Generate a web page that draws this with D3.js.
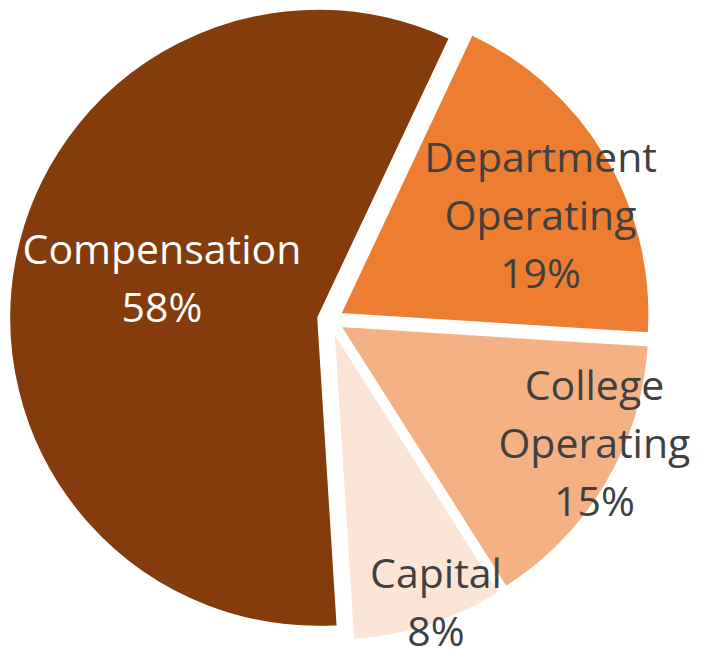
<!DOCTYPE html>
<html>
<head>
<meta charset="utf-8">
<script src="https://cdn.jsdelivr.net/npm/d3@7"></script>
<style>
    html, body { margin: 0; padding: 0; background: #fff; }
    svg { display: block; }
</style>
</head>
<body>
<svg id="chart" width="702" height="650"></svg>
<script>
// Budget split
const categories = ['Compensation', 'Department Operating', 'College Operating', 'Capital'];
const values = [58, 19, 15, 8];
const labelLines = [['Compensation'], ['Department', 'Operating'], ['College', 'Operating'], ['Capital']];
const colors = ['#843C0C', '#ED7D31', '#F4B183', '#FBE5D6'];
const textColors = ['#ffffff', '#404040', '#404040', '#404040'];

// layout
const width = 702, height = 650;
const cx = 330, cy = 320, radius = 309;
const explode = 12;
const firstAngle = 176.4; // degrees, clockwise from top
const fontSize = 41, lineHeight = 58, capHeight = 29;

// label placement (Excel "best fit"): angle nudge in degrees, radius as fraction
const labelPos = [
    { da: 3, r: 0.56 },
    { da: 4.3, r: 0.76 },
    { da: -5.5, r: 0.945 },
    { da: -2.6, r: 0.975 }
];

const rad = d => d * Math.PI / 180;

const data = categories.map((c, i) => ({ name: c, value: values[i], i: i }));

const pie = d3.pie()
    .sort(null)
    .value(d => d.value)
    .startAngle(rad(firstAngle))
    .endAngle(rad(firstAngle) + 2 * Math.PI);

const arc = d3.arc().innerRadius(0).outerRadius(radius);

const svg = d3.select('#chart');
const g = svg.append('g').attr('transform', `translate(${cx},${cy})`);

const arcs = pie(data);

// slices, each pushed out along its bisector
g.selectAll('path.slice')
    .data(arcs)
    .enter()
    .append('path')
    .attr('class', 'slice')
    .attr('d', arc)
    .attr('fill', d => colors[d.data.i])
    .attr('stroke', '#fff')
    .attr('stroke-width', 2)
    .attr('transform', d => {
        const a = (d.startAngle + d.endAngle) / 2;
        return `translate(${explode * Math.sin(a)},${-explode * Math.cos(a)})`;
    });

// labels
const labels = g.selectAll('text.label')
    .data(arcs)
    .enter()
    .append('text')
    .attr('class', 'label')
    .attr('text-anchor', 'middle')
    .attr('font-family', '"Open Sans", "Noto Sans", sans-serif')
    .attr('font-size', fontSize)
    .attr('fill', d => textColors[d.data.i]);

labels.each(function(d) {
    const p = labelPos[d.data.i];
    const a = (d.startAngle + d.endAngle) / 2 + rad(p.da);
    const lx = p.r * radius * Math.sin(a);
    const ly = -p.r * radius * Math.cos(a);
    const lines = labelLines[d.data.i].concat([d.data.value + '%']);
    const blockH = (lines.length - 1) * lineHeight + capHeight;
    const y0 = ly - blockH / 2 + capHeight;
    d3.select(this).selectAll('tspan')
        .data(lines)
        .enter()
        .append('tspan')
        .attr('x', lx)
        .attr('y', (t, k) => y0 + k * lineHeight)
        .text(t => t);
});
</script>
</body>
</html>
